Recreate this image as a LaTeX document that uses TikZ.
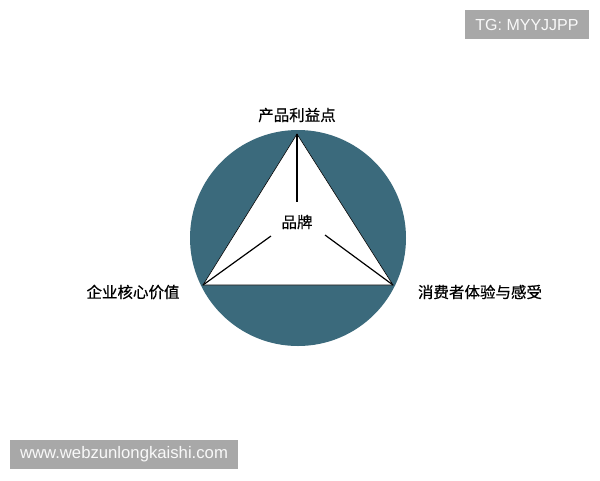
\documentclass[tikz,border=0pt]{standalone}
\usepackage{fontspec}
\setsansfont{Liberation Sans}
\newfontfamily\cjk[FakeBold=0.6]{Noto Sans CJK SC}
\definecolor{discfill}{RGB}{59,106,124}
\definecolor{tagfill}{RGB}{168,168,168}
\tikzstyle{caption} = [font=\cjk\fontsize{15.5}{18}\selectfont, text=black, inner sep=0pt]
\tikzstyle{tagbox} = [rectangle, fill=tagfill, text=white!95!gray, inner sep=0pt]
\tikzstyle{spoke} = [line width=1.2pt, black]

\begin{document}
\begin{tikzpicture}[x=1pt, y=-1pt]
    \useasboundingbox (0,0) rectangle (600,480);
    \fill [white] (0,0) rectangle (600,480);
    \fill [discfill] (298,238) circle (108);
    \coordinate (top) at (297,134);
    \coordinate (left) at (203,285);
    \coordinate (right) at (393,285);
    \filldraw [fill=white, draw=black, line width=0.6pt] (top) -- (left) -- (right) -- cycle;
    \node [caption] at (297,222) (brand) {品牌};
    \coordinate (topend) at (297,202);
    \coordinate (leftend) at (271,236);
    \coordinate (rightend) at (325,235);
    \draw [spoke] (top) -- (topend);
    \draw [spoke] (left) -- (leftend);
    \draw [spoke] (right) -- (rightend);
    \node [caption] at (297,115) (benefit) {产品利益点};
    \node [caption] at (133,292) (value) {企业核心价值};
    \node [caption] at (480,292) (experience) {消费者体验与感受};
    \node [tagbox, minimum width=124pt, minimum height=29pt, font=\sffamily\fontsize{16}{18}\selectfont] at (527,24.5) (tg) {TG: MYYJJPP};
    \node [tagbox, minimum width=228pt, minimum height=29pt, font=\sffamily\fontsize{16.7}{18}\selectfont] at (124,454.5) (site) {www.webzunlongkaishi.com};
\end{tikzpicture}
\end{document}
